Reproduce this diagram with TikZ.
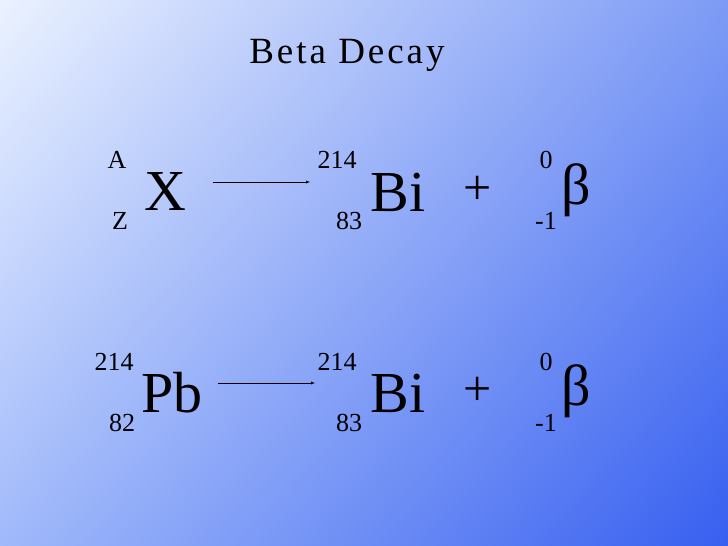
\documentclass[tikz,border=0pt]{standalone}
\usepackage{fontspec}
\setmainfont{Liberation Serif}
\usetikzlibrary{shadings}
\definecolor{cul}{RGB}{235,242,255}
\definecolor{cur}{RGB}{125,155,245}
\definecolor{cll}{RGB}{160,185,250}
\definecolor{clr}{RGB}{55,95,240}
\begin{document}
\begin{tikzpicture}[x=1pt,y=-1pt,
  big/.style={font=\fontsize{58}{58}\selectfont, inner sep=0pt},
  sm/.style={font=\fontsize{26}{26}\selectfont, inner sep=0pt},
  arr/.style={-latex, thin}]
\shade[upper left=cul, upper right=cur, lower left=cll, lower right=clr]
  (0,0) rectangle (728,546);
\useasboundingbox (0,0) rectangle (728,546);
\node[font=\fontsize{37}{37}\selectfont, inner sep=0pt] (t) at (347,55) {\addfontfeature{LetterSpace=8}Beta Decay};
% row 1
\node[sm] (a1) at (117,160) {A};
\node[sm] (z1) at (120,221) {Z};
\node[big] (x) at (165,192) {X};
\coordinate (s1) at (213,182); \coordinate (e1) at (310,182);
\draw[arr] (s1) -- (e1);
\node[sm] (m1) at (337,160) {214};
\node[sm] (n1) at (349,221) {83};
\node[big] (bi1) at (398,192) {Bi};
\node[big, font=\fontsize{50}{50}\selectfont] (p1) at (478,190) {+};
\node[sm] (o1) at (546,160) {0};
\node[sm] (q1) at (546,221) {-1};
\node[big] (b1) at (576,190) {β};
% row 2
\node[sm] (m0) at (114,362) {214};
\node[sm] (n0) at (122,423) {82};
\node[big] (pb) at (172,393) {Pb};
\coordinate (s2) at (218,383); \coordinate (e2) at (315,383);
\draw[arr] (s2) -- (e2);
\node[sm] (m2) at (337,362) {214};
\node[sm] (n2) at (349,423) {83};
\node[big] (bi2) at (398,393) {Bi};
\node[big, font=\fontsize{50}{50}\selectfont] (p2) at (478,391) {+};
\node[sm] (o2) at (546,362) {0};
\node[sm] (q2) at (546,423) {-1};
\node[big] (b2) at (576,391) {β};
\end{tikzpicture}
\end{document}
